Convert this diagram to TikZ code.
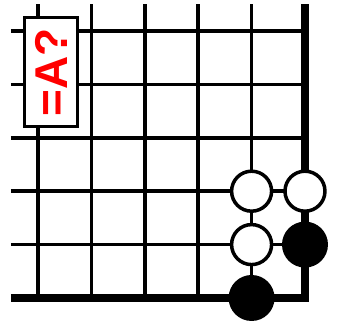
\documentclass[tikz,border=0pt]{standalone}
\usepackage{fontspec}
\setsansfont{Liberation Sans}

\begin{document}
\begin{tikzpicture}[
    x=53.4pt, y=53.4pt,
    gridline/.style={
        line width=3.5pt,
        draw=black
    },
    edgeline/.style={
        line width=7.5pt,
        draw=black,
        line join=miter
    },
    stone/.style={
        circle,
        inner sep=0pt
    },
    whitestone/.style={
        stone,
        draw=black,
        fill=white,
        line width=3.5pt,
        minimum size=40pt
    },
    blackstone/.style={
        stone,
        fill=black,
        minimum size=46pt
    },
    labelbox/.style={
        draw=black,
        fill=white,
        line width=3.5pt,
        minimum width=109pt,
        minimum height=53pt,
        inner sep=0pt,
        rotate=90,
        text=red,
        font=\sffamily\bfseries\fontsize{46}{46}\selectfont
    }
]
\useasboundingbox (-0.7116,-0.5805) rectangle (5.637,5.5805);

% grid
\foreach \j in {1,...,5}
    \draw[gridline] (-0.506,\j) -- (5,\j);
\foreach \i in {0,...,4}
    \draw[gridline] (\i,0) -- (\i,5.506);
\draw[edgeline] (-0.506,0) -- (5,0) -- (5,5.506);

% stones
\node[whitestone] (w42) at (4,2) {};
\node[whitestone] (w52) at (5,2) {};
\node[whitestone] (w41) at (4,1) {};
\node[blackstone] (b51) at (5,1) {};
\node[blackstone] (b40) at (4,0) {};

% label
\node[labelbox] (question) at (0.243,4.232) {=A?};
\end{tikzpicture}
\end{document}
